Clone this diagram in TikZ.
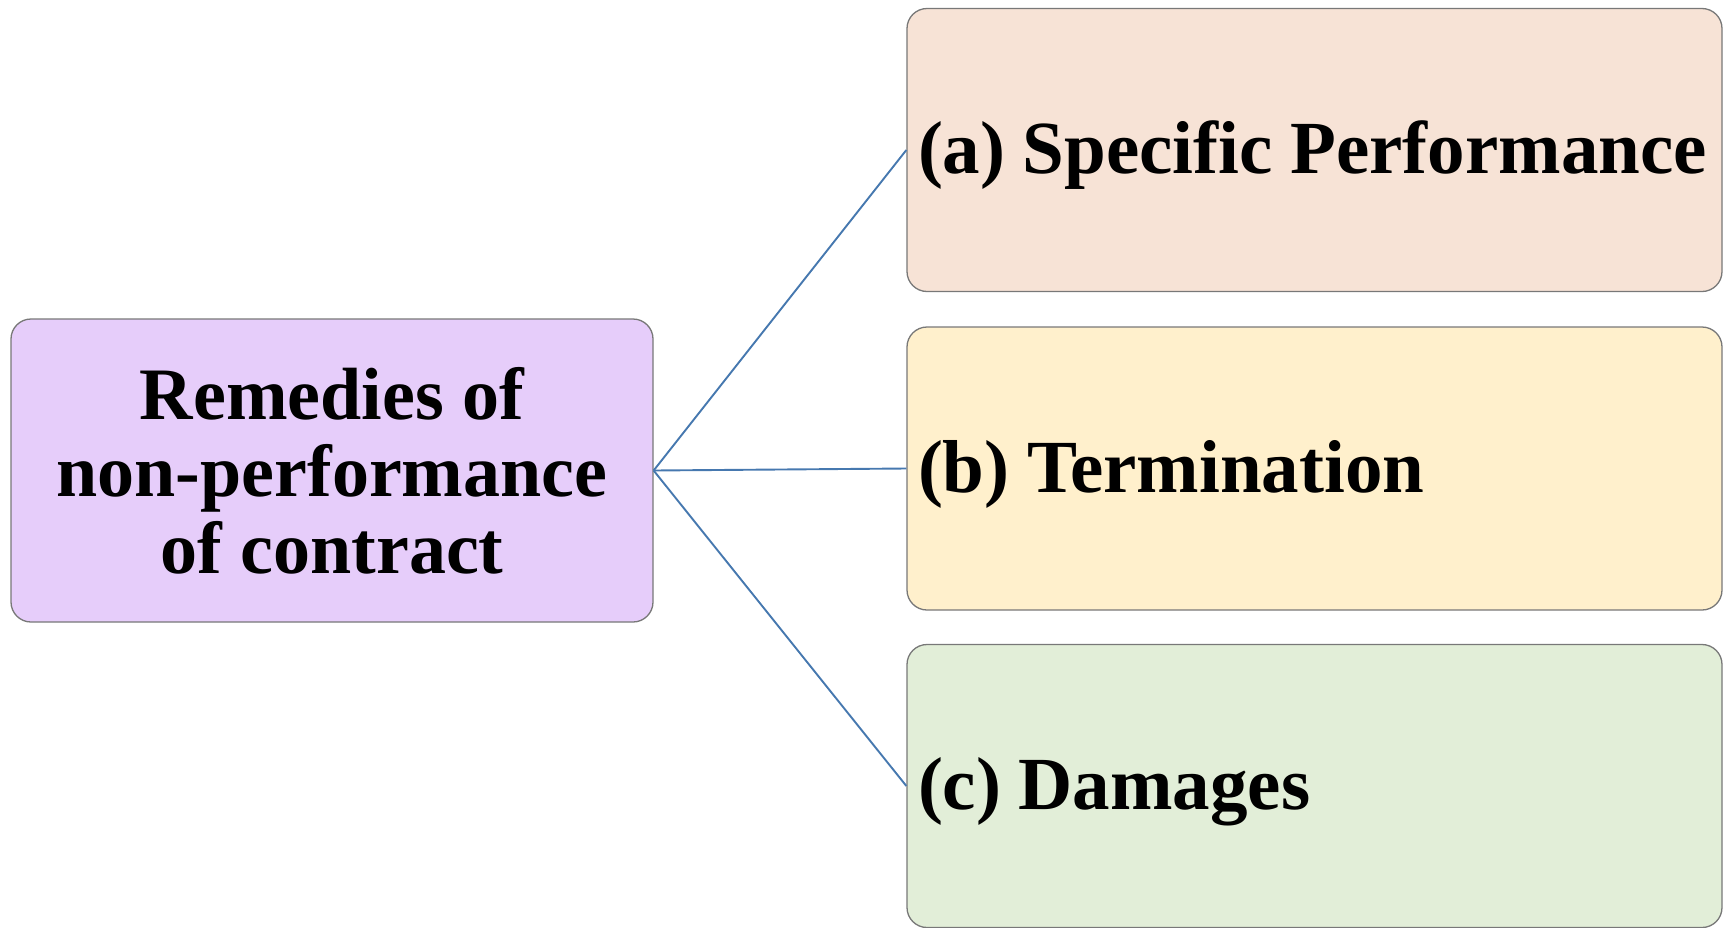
\documentclass[tikz,border=0pt]{standalone}
\usepackage{fontspec}
\setmainfont{Liberation Serif}
\newcommand{\gap}{\hspace{17.5pt}}
\definecolor{boxline}{RGB}{120,120,120}
\definecolor{linkblue}{RGB}{70,120,175}
\definecolor{purplefill}{RGB}{230,205,250}
\definecolor{peachfill}{RGB}{247,227,214}
\definecolor{creamfill}{RGB}{255,240,204}
\definecolor{greenfill}{RGB}{226,238,216}
\begin{document}
\begin{tikzpicture}[x=1pt,y=-1pt,
  box/.style={draw=boxline, line width=1.3pt, rounded corners=20pt, inner sep=0pt},
  branch/.style={box, minimum width=815pt, minimum height=283pt, text width=793pt,
    inner xsep=11pt, align=left, text height=62pt, text depth=15pt,
    font=\bfseries\fontsize{75}{78}\selectfont},
  link/.style={draw=linkblue, line width=1.9pt}]
\useasboundingbox (0,0) rectangle (1724,927);
% root node
\node[box, fill=purplefill, minimum width=642pt, minimum height=303pt, align=center,
  font=\bfseries\fontsize{74}{77}\selectfont] (root) at (332,470.5)
  {Remedies of\\non-performance\\of contract};
% the three remedies
\node[branch, fill=peachfill] (spec) at (1314.5,150) {\mbox{(a)\gap Specific\gap Performance}};
\node[branch, fill=creamfill] (term) at (1314.5,468.5) {\mbox{(b)\gap Termination}};
\node[branch, fill=greenfill] (dam) at (1314.5,786) {\mbox{(c)\gap Damages}};
% connectors
\draw[link] (root.east) -- (spec.west);
\draw[link] (root.east) -- (term.west);
\draw[link] (root.east) -- (dam.west);
\end{tikzpicture}
\end{document}
